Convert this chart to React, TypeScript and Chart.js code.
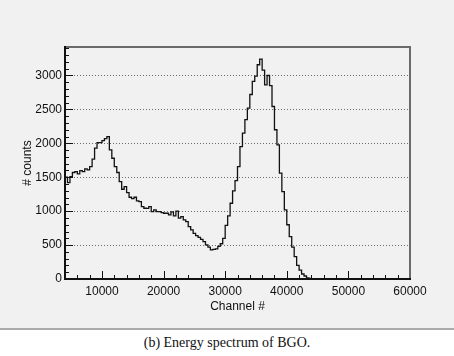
import React, { useEffect, useRef } from "react";
import { Chart, registerables } from "chart.js";

Chart.register(...registerables);

// Histogram data (bin start channel, bin width, counts per bin)
const binStart = 4000;
const binWidth = 400;
const counts = [
  1500, 1420, 1510, 1570, 1584, 1550, 1598, 1584, 1623, 1610,
  1657, 1766, 1928, 2011, 2011, 2040, 2070, 2100, 1903, 1780,
  1657, 1570, 1436, 1323, 1362, 1273, 1205, 1185, 1205, 1151,
  1140, 1067, 1043, 1040, 1067, 993, 1018, 993, 993, 978,
  969, 969, 944, 990, 930, 1000, 896, 920, 871, 846,
  772, 723, 674, 640, 615, 585, 551, 502, 470, 428,
  438, 445, 480, 520, 600, 790, 930, 1117, 1300, 1450,
  1657, 1952, 2149, 2350, 2518, 2720, 2912, 2990, 3158, 3242,
  3080, 2863, 3000, 2850, 2543, 2200, 1977, 1560, 1288, 1020,
  800, 624, 470, 329, 200, 130, 74, 44, 18, 8,
  3, 1, 0,
];

const xMin = 4000;
const xMax = 60000;
const yMin = 0;
const yMax = 3420;
const xTickLabels = [10000, 20000, 30000, 40000, 50000, 60000];
const yTickLabels = [0, 500, 1000, 1500, 2000, 2500, 3000];
const xMinorStep = 2000;
const yMinorStep = 100;

const xTitle = "Channel #";
const yTitle = "# counts";
const caption = "(b) Energy spectrum of BGO.";

const FONT = "'Liberation Sans', Arial, sans-serif";

const rootFrame = {
  id: "rootFrame",
  beforeDatasetsDraw(chart: any) {
    const { ctx, chartArea } = chart;
    const ys = chart.scales.y;
    ctx.save();
    ctx.strokeStyle = "#6a6a6a";
    ctx.lineWidth = 1;
    ctx.setLineDash([1, 2]);
    for (const v of yTickLabels) {
      if (v === 0) continue;
      const y = Math.round(ys.getPixelForValue(v)) + 0.5;
      ctx.beginPath();
      ctx.moveTo(chartArea.left, y);
      ctx.lineTo(chartArea.right, y);
      ctx.stroke();
    }
    ctx.restore();
  },
  afterDraw(chart: any) {
    const { ctx, chartArea } = chart;
    const xs = chart.scales.x;
    const ys = chart.scales.y;
    const { left, right, top, bottom } = chartArea;
    ctx.save();
    ctx.setLineDash([]);
    ctx.strokeStyle = "#111";
    ctx.lineWidth = 1;
    for (let v = yMin; v <= yMax; v += yMinorStep) {
      const y = Math.round(ys.getPixelForValue(v)) + 0.5;
      const major = v % 500 === 0;
      ctx.beginPath();
      ctx.moveTo(left, y);
      ctx.lineTo(left + (major ? 8 : 4), y);
      ctx.stroke();
    }
    for (let v = xMin; v <= xMax; v += xMinorStep) {
      const x = Math.round(xs.getPixelForValue(v)) + 0.5;
      const major = v % 10000 === 0;
      ctx.beginPath();
      ctx.moveTo(x, bottom);
      ctx.lineTo(x, bottom - (major ? 8 : 4));
      ctx.stroke();
    }
    ctx.lineWidth = 2;
    ctx.strokeStyle = "#6a6a6a";
    ctx.beginPath();
    ctx.moveTo(left, top);
    ctx.lineTo(right, top);
    ctx.lineTo(right, bottom);
    ctx.stroke();
    ctx.strokeStyle = "#111";
    ctx.beginPath();
    ctx.moveTo(left, top - 1);
    ctx.lineTo(left, bottom);
    ctx.lineTo(right + 1, bottom);
    ctx.stroke();
    ctx.restore();
  },
};

export default function App() {
  const ref = useRef<HTMLCanvasElement | null>(null);

  useEffect(() => {
    document.body.style.margin = "0";
    const canvas = ref.current;
    if (!canvas) return;
    const points = counts.map((c, i) => ({ x: binStart + i * binWidth, y: c }));
    points.push({ x: binStart + counts.length * binWidth, y: counts[counts.length - 1] });

    const chart = new Chart(canvas, {
      type: "line",
      data: {
        datasets: [
          {
            data: points,
            borderColor: "#111",
            borderWidth: 1.3,
            pointRadius: 0,
            stepped: true,
            fill: false,
            tension: 0,
          },
        ],
      },
      options: {
        animation: false,
        responsive: false,
        devicePixelRatio: 1,
        events: [],
        layout: { padding: { left: 0, top: 47, right: 44, bottom: 0 } },
        plugins: { legend: { display: false }, tooltip: { enabled: false } },
        scales: {
          x: {
            type: "linear",
            min: xMin,
            max: xMax,
            afterBuildTicks: (s: any) => {
              s.ticks = xTickLabels.map((v) => ({ value: v }));
            },
            afterFit: (s: any) => {
              s.height = 49;
            },
            grid: { display: false, drawTicks: false },
            border: { display: false },
            ticks: {
              padding: 5,
              color: "#111",
              font: { family: FONT, size: 12 },
              maxRotation: 0,
              autoSkip: false,
              callback: (v: any) => String(v),
            },
            title: {
              display: true,
              text: xTitle,
              color: "#111",
              font: { family: FONT, size: 12 },
              padding: { top: 0, bottom: 14 },
            },
          },
          y: {
            type: "linear",
            min: yMin,
            max: yMax,
            afterBuildTicks: (s: any) => {
              s.ticks = yTickLabels.map((v) => ({ value: v }));
            },
            afterFit: (s: any) => {
              s.width = 65;
            },
            grid: { display: false, drawTicks: false },
            border: { display: false },
            ticks: {
              padding: 3,
              color: "#111",
              font: { family: FONT, size: 12 },
              autoSkip: false,
              callback: (v: any) => String(v),
            },
            title: {
              display: true,
              text: yTitle,
              color: "#111",
              font: { family: FONT, size: 12 },
              padding: { top: 20, bottom: 0 },
            },
          },
        },
      },
      plugins: [rootFrame],
    });
    return () => chart.destroy();
  }, []);

  return (
    <div style={{ width: 454, height: 356, position: "relative", background: "#fff", overflow: "hidden" }}>
      <div style={{ position: "absolute", left: 0, top: 0, width: 454, height: 328, background: "#f1f1f1" }}>
        <canvas ref={ref} width={454} height={328} style={{ width: 454, height: 328, display: "block" }} />
      </div>
      <div style={{ position: "absolute", left: 0, top: 328, width: 454, height: 2, background: "#ababab" }} />
      <div
        style={{
          position: "absolute",
          left: 0,
          top: 334,
          width: 454,
          textAlign: "center",
          fontFamily: "'Liberation Serif', serif",
          fontSize: 14,
          color: "#111",
          lineHeight: "18px",
        }}
      >
        {caption}
      </div>
    </div>
  );
}
